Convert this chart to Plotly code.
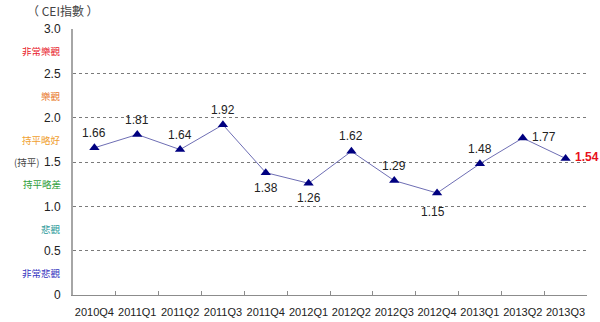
import plotly.graph_objects as go

# CEI index by quarter
quarters = ["2010Q4", "2011Q1", "2011Q2", "2011Q3", "2011Q4", "2012Q1",
            "2012Q2", "2012Q3", "2012Q4", "2013Q1", "2013Q2", "2013Q3"]
cei = [1.66, 1.81, 1.64, 1.92, 1.38, 1.26, 1.62, 1.29, 1.15, 1.48, 1.77, 1.54]
# where each value label sits relative to its marker
label_side = ["above", "above", "above", "above", "below", "below",
              "above", "above", "below", "above", "right", "right"]

# y-axis ticks
y_ticks = [0, 0.5, 1.0, 1.5, 2.0, 2.5, 3.0]
y_tick_text = ["0", "0.5", "1.0", "1.5", "2.0", "2.5", "3.0"]

# sentiment zones (label, centre value, colour)
zone_names = ["非常樂觀", "樂觀", "持平略好", "持平略差", "悲觀", "非常悲觀"]
zone_values = [2.75, 2.25, 1.75, 1.25, 0.75, 0.25]
zone_colors = ["#E8202A", "#E8782A", "#F0A030", "#2E9E3A", "#2A9A9A", "#3535C0"]

fig = go.Figure()
fig.add_trace(go.Scatter(
    x=quarters, y=cei,
    mode="lines+markers",
    line=dict(color="#6E6EB4", width=1),
    marker=dict(symbol="triangle-up", size=9, color="#000080"),
    cliponaxis=False,
    showlegend=False,
))

annotations = []
# value labels
for i, (q, v, side) in enumerate(zip(quarters, cei, label_side)):
    last = i == len(cei) - 1
    ann = dict(
        x=q, y=v, xref="x", yref="y", showarrow=False,
        text=f"<b>{v:.2f}</b>" if last else f"{v:.2f}",
        font=dict(family="Liberation Sans, Arial", size=12,
                  color="#E8101A" if last else "#222222"),
    )
    if side == "above":
        ann.update(yanchor="bottom", xanchor="center", yshift=6)
    elif side == "below":
        ann.update(yanchor="top", xanchor="center", yshift=-6)
    else:
        ann.update(yanchor="middle", xanchor="left", xshift=7, yshift=1)
    if q == "2012Q4":
        ann.update(yshift=-10, xshift=-4)
    annotations.append(ann)

for name, val, col in zip(zone_names, zone_values, zone_colors):
    annotations.append(dict(
        x=-0.02, xref="paper", y=val, yref="y", text=name,
        showarrow=False, xanchor="right", yanchor="middle",
        font=dict(family="Noto Sans CJK TC", size=9.5, color=col),
    ))
annotations.append(dict(
    x=-0.063, xref="paper", y=1.5, yref="y", text="(持平)",
    showarrow=False, xanchor="right", yanchor="middle",
    font=dict(family="Noto Sans CJK TC", size=9.5, color="#444444"),
))
annotations.append(dict(
    x=-0.019, xref="paper", y=1.0, yref="paper", yshift=8,
    text="（ CEI指數 ）",
    showarrow=False, xanchor="center", yanchor="bottom",
    font=dict(family="Noto Sans CJK TC", size=12, color="#444444"),
))

fig.update_layout(
    width=600, height=322,
    margin=dict(l=73, r=13, t=29, b=27),
    paper_bgcolor="white", plot_bgcolor="white",
    font=dict(family="Liberation Sans, Arial", size=11, color="#222222"),
    annotations=annotations,
    xaxis=dict(
        type="category",
        range=[-0.5, len(quarters) - 0.5],
        showline=True, linecolor="#8C8C8C", linewidth=1,
        ticks="inside", ticklen=4, tickcolor="#8C8C8C", tickson="boundaries",
        showgrid=False, zeroline=False,
        tickangle=0, automargin=False, ticklabelstandoff=7,
        tickfont=dict(size=11, color="#222222"),
    ),
    yaxis=dict(
        range=[0, 3.0],
        tickvals=y_ticks, ticktext=y_tick_text,
        showline=True, linecolor="#A6A6A6", linewidth=2,
        showgrid=True, gridcolor="#7A7A7A", gridwidth=1, griddash="dot",
        zeroline=False, ticks="", automargin=False,
        ticklabelstandoff=8,
        tickfont=dict(size=12, color="#222222"),
    ),
)

fig.write_html("out.html")
